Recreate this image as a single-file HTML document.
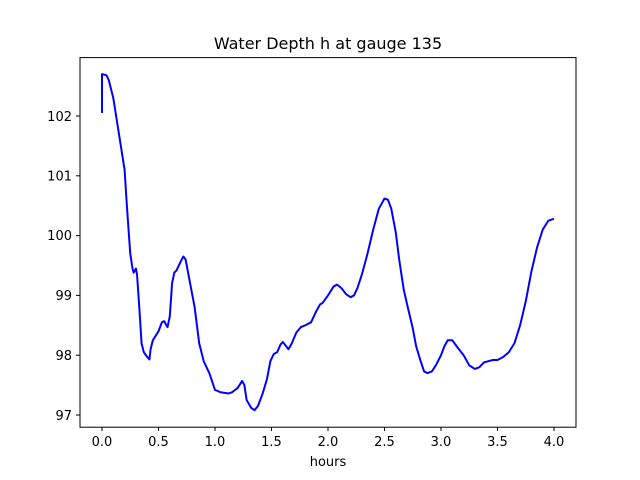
<!DOCTYPE html>
<html><head><meta charset="utf-8"><style>body{margin:0;background:#fff}svg{display:block}</style></head>
<body>
<svg width="640" height="480" viewBox="0 0 640 480" xmlns="http://www.w3.org/2000/svg" font-family="DejaVu Sans, Liberation Sans, sans-serif">
<rect width="640" height="480" fill="#fff"/>
<g transform="matrix(113 0 0 -59.8 102 6215.6)">
<polyline fill="none" stroke="#0000ff" stroke-width="2" vector-effect="non-scaling-stroke" stroke-linejoin="round" points="
0,102.05 0,102.7 0.04,102.68 0.06,102.6 0.1,102.3 0.15,101.7 0.2,101.1 0.22,100.5 0.25,99.7 0.27,99.45 0.28,99.38 0.30,99.45 0.31,99.35 0.33,98.8 0.35,98.2 0.37,98.05 0.40,97.97 0.42,97.93 0.43,98.1 0.45,98.25 0.5,98.4 0.53,98.55 0.55,98.57 0.57,98.5 0.58,98.47 0.6,98.65 0.62,99.2 0.64,99.38 0.66,99.42 0.7,99.58 0.72,99.65 0.74,99.6 0.78,99.2 0.82,98.8 0.86,98.2 0.9,97.9 0.95,97.7 1.0,97.42 1.05,97.38 1.12,97.36 1.15,97.38 1.2,97.45 1.24,97.57 1.26,97.5 1.28,97.25 1.32,97.12 1.35,97.08 1.38,97.15 1.42,97.35 1.46,97.6 1.49,97.9 1.52,98.02 1.55,98.05 1.58,98.18 1.6,98.22 1.63,98.15 1.65,98.1 1.68,98.2 1.72,98.38 1.76,98.47 1.8,98.5 1.85,98.55 1.9,98.75 1.93,98.85 1.95,98.87 2.0,99.0 2.05,99.15 2.08,99.18 2.12,99.12 2.16,99.02 2.2,98.97 2.23,99.0 2.26,99.12 2.3,99.35 2.35,99.7 2.4,100.1 2.45,100.45 2.5,100.62 2.53,100.6 2.56,100.45 2.6,100.05 2.63,99.6 2.67,99.1 2.7,98.85 2.75,98.45 2.78,98.15 2.82,97.9 2.85,97.73 2.88,97.7 2.92,97.73 2.96,97.85 3.0,98.0 3.03,98.15 3.06,98.25 3.1,98.25 3.15,98.12 3.2,98.0 3.25,97.83 3.3,97.77 3.34,97.8 3.38,97.88 3.42,97.9 3.46,97.92 3.5,97.92 3.55,97.97 3.6,98.05 3.65,98.2 3.7,98.5 3.75,98.9 3.8,99.4 3.85,99.8 3.9,100.1 3.95,100.25 4.0,100.28"/>
</g>
<rect x="80" y="57.6" width="496" height="369.6" fill="none" stroke="#000" stroke-width="1"/>
<g stroke="#000" stroke-width="1">
<line x1="102" y1="427" x2="102" y2="431"/><line x1="158.5" y1="427" x2="158.5" y2="431"/><line x1="215" y1="427" x2="215" y2="431"/><line x1="271.5" y1="427" x2="271.5" y2="431"/><line x1="328" y1="427" x2="328" y2="431"/><line x1="384.5" y1="427" x2="384.5" y2="431"/><line x1="441" y1="427" x2="441" y2="431"/><line x1="497.5" y1="427" x2="497.5" y2="431"/><line x1="554" y1="427" x2="554" y2="431"/>
<line x1="76" y1="415" x2="80" y2="415"/><line x1="76" y1="355.2" x2="80" y2="355.2"/><line x1="76" y1="295.4" x2="80" y2="295.4"/><line x1="76" y1="235.6" x2="80" y2="235.6"/><line x1="76" y1="175.8" x2="80" y2="175.8"/><line x1="76" y1="116" x2="80" y2="116"/>
</g>
<g font-size="13" text-anchor="middle" fill="#000">
<text x="102" y="446">0.0</text><text x="158.5" y="446">0.5</text><text x="215" y="446">1.0</text><text x="271.5" y="446">1.5</text><text x="328" y="446">2.0</text><text x="384.5" y="446">2.5</text><text x="441" y="446">3.0</text><text x="497.5" y="446">3.5</text><text x="554" y="446">4.0</text>
<text x="328" y="466">hours</text>
</g>
<g font-size="13" text-anchor="end" fill="#000">
<text x="72" y="420">97</text><text x="72" y="360">98</text><text x="72" y="300">99</text><text x="72" y="240">100</text><text x="72" y="180.5">101</text><text x="72" y="121">102</text>
</g>
<text x="328" y="49" font-size="16" text-anchor="middle" fill="#000">Water Depth h at gauge 135</text>
</svg>
</body></html>
